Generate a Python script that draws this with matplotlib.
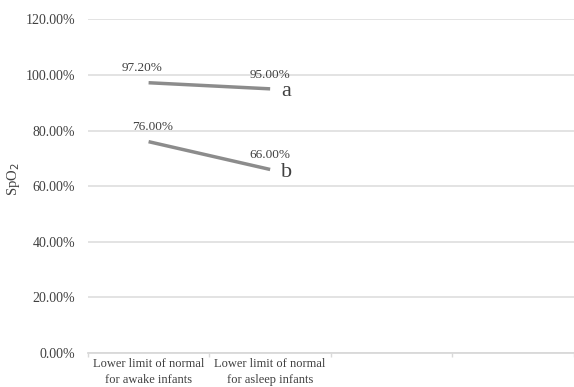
import matplotlib
matplotlib.use("Agg")
import matplotlib.pyplot as plt
from matplotlib.ticker import FuncFormatter

categories = ["Lower limit of normal\nfor awake infants", "Lower limit of normal\nfor asleep infants", "", ""]
series_a = [97.2, 95.0]
series_b = [76.0, 66.0]
series_names = ["a", "b"]
yticks = [0, 20, 40, 60, 80, 100, 120]

plt.rcParams['font.family'] = ['Liberation Serif', 'DejaVu Serif']
txt = '#404040'

fig = plt.figure(figsize=(5.74, 3.87), dpi=100)
ax = fig.add_axes([0.153, 0.088, 0.847, 0.862])
x = list(range(len(categories)))
ax.set_xlim(-0.5, len(categories) - 0.5)
ax.set_ylim(0, 120)

left_dx = {"a": -5, "b": 3}
for vals, name in [(series_a, series_names[0]), (series_b, series_names[1])]:
    xs = x[:len(vals)]
    ax.plot(xs, vals, color='#8c8c8c', lw=2.5, solid_capstyle='butt', zorder=3)
    for i, (xi, v) in enumerate(zip(xs, vals)):
        dx = left_dx[name] if i == 0 else 0
        ax.annotate(f"{v:.2f}%", (xi, v), xytext=(dx, 6), textcoords='offset points',
                    ha='center', va='bottom', fontsize=9.5, color=txt)
    ax.annotate(name, (xs[-1], vals[-1]), xytext=(8, -2), textcoords='offset points',
                ha='left', va='center', fontsize=16, color=txt)

ax.set_yticks(yticks)
ax.yaxis.set_major_formatter(FuncFormatter(lambda v, p: f"{v:.2f}%"))
ax.set_xticks(x)
ax.set_xticklabels(categories, fontsize=9, color=txt, linespacing=1.35)
ax.set_xticks([i - 0.5 for i in range(len(categories) + 1)], minor=True)
ax.tick_params(axis='x', which='major', length=0, pad=4)
ax.tick_params(axis='x', which='minor', length=3, color='#d9d9d9', width=1)
ax.tick_params(axis='y', length=0, labelsize=10, labelcolor=txt, pad=9)
ax.grid(axis='y', color='#e0e0e0', lw=1.3)
ax.set_axisbelow(True)
for s in ['top', 'right', 'left']:
    ax.spines[s].set_visible(False)
ax.spines['bottom'].set_color('#d9d9d9')
ax.spines['bottom'].set_linewidth(1.3)

ax.set_ylabel("SpO$_2$", fontsize=10.5, color=txt)
ax.yaxis.set_label_coords(-0.135, 0.52)

fig.savefig("out.png", dpi=100)
